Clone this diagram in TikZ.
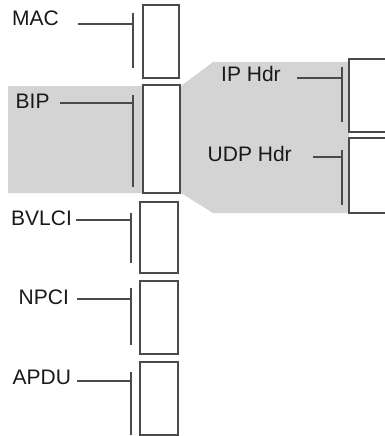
\documentclass[tikz,border=0pt]{standalone}
\usepackage{fontspec}
\setmainfont{Liberation Sans}
\definecolor{lnc}{HTML}{4A4A4A}
\definecolor{shadec}{HTML}{D4D4D4}
\begin{document}
\begin{tikzpicture}[x=1pt,y=-1pt,
  pbox/.style={draw=lnc, line width=1.8pt, fill=white, inner sep=0pt, rectangle},
  lbl/.style={anchor=base west, inner sep=0pt, font=\fontsize{21}{25}\selectfont, text=black!90},
  brk/.style={draw=lnc, line width=1.8pt}]
\useasboundingbox (0,0) rectangle (385,436);
% shaded region
\fill[shadec] (8,86) -- (181,86) -- (213,62) -- (349,62) -- (349,213) -- (213,213) -- (181,193) -- (8,193) -- cycle;
% left column boxes
\node[pbox, minimum width=36pt, minimum height=73pt] (mac) at (161,41.5) {};
\node[pbox, minimum width=37pt, minimum height=108pt] (bip) at (161.5,139) {};
\node[pbox, minimum width=38pt, minimum height=71pt] (bvlci) at (159,237.5) {};
\node[pbox, minimum width=38pt, minimum height=73pt] (npci) at (159,317.5) {};
\node[pbox, minimum width=38pt, minimum height=73pt] (apdu) at (159,398.5) {};
% right column boxes
\node[pbox, minimum width=46pt, minimum height=73pt] (iph) at (372,95.5) {};
\node[pbox, minimum width=46pt, minimum height=75pt] (udph) at (372,175.5) {};
% labels
\node[lbl] (macl) at (12,25.5) {MAC};
\node[lbl] (bipl) at (15.5,108) {BIP};
\node[lbl] (bvlcil) at (11,225) {BVLCI};
\node[lbl] (npcil) at (18.5,304) {NPCI};
\node[lbl] (apdul) at (12.5,384) {APDU};
\node[lbl] (iphl) at (221,81.5) {IP Hdr};
\node[lbl] (udphl) at (207.5,161.5) {UDP Hdr};
% bracket coordinates
\coordinate (macA) at (78,24);   \coordinate (macB) at (133,24);
\coordinate (macT) at (133,13);  \coordinate (macD) at (133,68);
\coordinate (bipA) at (60,103);  \coordinate (bipB) at (133,103);
\coordinate (bipT) at (133,95);  \coordinate (bipD) at (133,187);
\coordinate (bvA) at (76,220);   \coordinate (bvB) at (131,220);
\coordinate (bvT) at (131,213);  \coordinate (bvD) at (131,263);
\coordinate (npA) at (77,299);   \coordinate (npB) at (131,299);
\coordinate (npT) at (131,288);  \coordinate (npD) at (131,345);
\coordinate (apA) at (77,381);   \coordinate (apB) at (131,381);
\coordinate (apT) at (131,372);  \coordinate (apD) at (131,435);
\coordinate (ipA) at (297,78);   \coordinate (ipB) at (342,78);
\coordinate (ipT) at (342,67);   \coordinate (ipD) at (342,122);
\coordinate (udA) at (313,157);  \coordinate (udB) at (342,157);
\coordinate (udT) at (342,150);  \coordinate (udD) at (342,205);
% brackets
\draw[brk] (macA) -- (macB); \draw[brk] (macT) -- (macD);
\draw[brk] (bipA) -- (bipB); \draw[brk] (bipT) -- (bipD);
\draw[brk] (bvA) -- (bvB);   \draw[brk] (bvT) -- (bvD);
\draw[brk] (npA) -- (npB);   \draw[brk] (npT) -- (npD);
\draw[brk] (apA) -- (apB);   \draw[brk] (apT) -- (apD);
\draw[brk] (ipA) -- (ipB);   \draw[brk] (ipT) -- (ipD);
\draw[brk] (udA) -- (udB);   \draw[brk] (udT) -- (udD);
\end{tikzpicture}
\end{document}
